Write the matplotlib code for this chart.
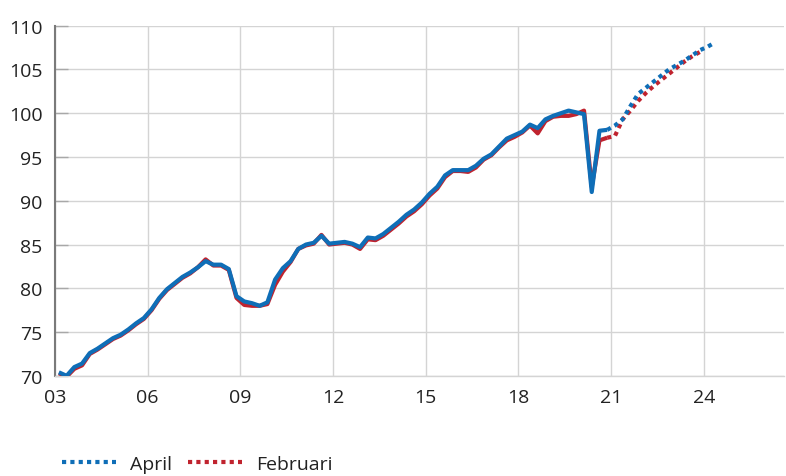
import numpy as np
import matplotlib
matplotlib.use("Agg")
import matplotlib.pyplot as plt
from matplotlib.lines import Line2D

# Kvartalsdata, index, första kvartalet 2003 och framåt
start_year = 2003

april_hist = [70.4, 70.0, 71.0, 71.4, 72.6, 73.1, 73.7, 74.3, 74.7, 75.3,
              76.0, 76.6, 77.6, 78.9, 79.9, 80.6, 81.3, 81.8, 82.4, 83.1,
              82.7, 82.7, 82.2, 79.1, 78.5, 78.3, 78.0, 78.4, 81.0, 82.3,
              83.1, 84.5, 85.0, 85.2, 86.0, 85.1, 85.2, 85.3, 85.1, 84.7,
              85.8, 85.7, 86.2, 86.9, 87.6, 88.4, 89.0, 89.8, 90.8, 91.6,
              92.9, 93.5, 93.5, 93.5, 94.0, 94.8, 95.3, 96.2, 97.1, 97.5,
              97.9, 98.7, 98.3, 99.3, 99.7, 100.0, 100.3, 100.1, 99.9, 91.0,
              98.0, 98.1]
april_prog = [98.6, 99.3, 100.8, 102.2, 102.9, 103.6, 104.3, 105.0, 105.5,
              106.0, 106.6, 107.2, 107.6, 108.1]

feb_hist = [70.3, 69.9, 70.8, 71.2, 72.5, 73.0, 73.6, 74.2, 74.6, 75.2,
            75.9, 76.5, 77.5, 78.8, 79.8, 80.5, 81.2, 81.7, 82.4, 83.3,
            82.6, 82.6, 82.1, 78.9, 78.1, 78.0, 78.0, 78.2, 80.4, 81.9,
            83.0, 84.5, 84.9, 85.1, 86.1, 85.0, 85.1, 85.2, 85.0, 84.5,
            85.6, 85.5, 86.0, 86.7, 87.4, 88.2, 88.8, 89.6, 90.6, 91.4,
            92.7, 93.4, 93.4, 93.3, 93.8, 94.7, 95.2, 96.1, 96.9, 97.3,
            97.8, 98.6, 97.7, 99.1, 99.6, 99.7, 99.7, 99.9, 100.3, 91.6,
            96.9, 97.2]
feb_prog = [97.4, 99.3, 100.3, 101.4, 102.3, 103.1, 103.8, 104.5, 105.2,
            105.9, 106.5, 107.0]

year_ticks = [2003, 2006, 2009, 2012, 2015, 2018, 2021, 2024]
year_labels = ["03", "06", "09", "12", "15", "18", "21", "24"]

blue = "#0F6EB7"
red = "#C0232E"

plt.rcParams["font.family"] = ["Open Sans", "DejaVu Sans"]


def kvartal(n, offset=0):
    # mitten av varje kvartal
    return start_year + (np.arange(n) + offset) / 4 + 0.125


fig = plt.figure(figsize=(7.86, 4.77), dpi=100)
ax = fig.add_axes([0.070, 0.210, 0.9275, 0.734])

n_hist = len(april_hist)
x_hist = kvartal(n_hist)

# prognoserna ritas från sista utfallet
x_feb = kvartal(len(feb_prog) + 1, n_hist - 1)
x_apr = kvartal(len(april_prog) + 1, n_hist - 1)

dot = (0, (1, 1))
ax.plot(x_hist, feb_hist, color=red, lw=3, solid_capstyle="butt", zorder=3)
ax.plot(x_feb, [feb_hist[-1]] + feb_prog, color=red, lw=3, ls=dot,
        dash_capstyle="butt", zorder=3)
ax.plot(x_hist, april_hist, color=blue, lw=3, solid_capstyle="butt", zorder=4)
ax.plot(x_apr, [april_hist[-1]] + april_prog, color=blue, lw=3, ls=dot,
        dash_capstyle="butt", zorder=4)

ax.set_xlim(2003, 2026.6)
ax.set_ylim(70, 110)
ax.set_yticks(range(70, 111, 5))
ax.set_xticks(year_ticks)
ax.set_xticklabels(year_labels)

ax.grid(True, color="#d4d4d4", lw=1)
ax.set_axisbelow(True)
for s in ["top", "right"]:
    ax.spines[s].set_visible(False)
ax.spines["left"].set_color("#7a7a7a")
ax.spines["left"].set_linewidth(1.5)
ax.spines["bottom"].set_color("#d4d4d4")
ax.spines["bottom"].set_linewidth(1)

ax.tick_params(axis="y", direction="in", length=9, width=1, color="#a8a8a8",
               labelsize=14, pad=9, labelcolor="#222222")
ax.tick_params(axis="x", length=0, labelsize=14, pad=9, labelcolor="#222222")

handles = [Line2D([], [], color=blue, lw=3, ls=dot, dash_capstyle="butt"),
           Line2D([], [], color=red, lw=3, ls=dot, dash_capstyle="butt")]
fig.legend(handles, ["April", "Februari"], loc="center left",
           bbox_to_anchor=(0.069, 0.026), borderaxespad=0, ncol=2,
           frameon=False, fontsize=14, handlelength=2.8, handletextpad=0.7,
           columnspacing=0.8, labelcolor="#222222")

fig.savefig("out.png", dpi=100)
